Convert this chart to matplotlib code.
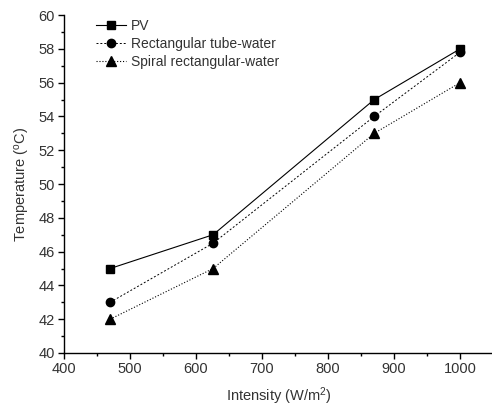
import numpy as np
import matplotlib
matplotlib.use("Agg")
import matplotlib.pyplot as plt

plt.rcParams['font.family'] = ['Liberation Sans', 'DejaVu Sans']
plt.rcParams['mathtext.fontset'] = 'custom'
plt.rcParams['mathtext.rm'] = 'Liberation Sans'
plt.rcParams['mathtext.it'] = 'Liberation Sans'

intensity = [470, 626, 870, 1000]
pv = [45, 47, 55, 58]
rect_tube = [43, 46.5, 54, 57.8]
spiral_rect = [42, 45, 53, 56]

fig = plt.figure(figsize=(4.92, 4.09), dpi=100)
ax = fig.add_axes([0.130, 0.137, 0.872, 0.826])

ax.plot(intensity, pv, '-', color='black', lw=0.8, marker='s', ms=6,
        label='PV')
ax.plot(intensity, rect_tube, '--', color='black', lw=0.7, marker='o', ms=6,
        dashes=(2, 2), label='Rectangular tube-water')
ax.plot(intensity, spiral_rect, ':', color='black', lw=0.8, marker='^', ms=6.5,
        label='Spiral rectangular-water')

ax.set_xlim(400, 1050)
ax.set_ylim(40, 60)
ax.set_xticks(np.arange(400, 1001, 100))
ax.set_xticks(np.arange(450, 1050, 100), minor=True)
ax.set_yticks(np.arange(40, 61, 2))
ax.set_yticks(np.arange(41, 60, 2), minor=True)

for s in ['top', 'right']:
    ax.spines[s].set_visible(False)
for s in ['left', 'bottom']:
    ax.spines[s].set_linewidth(1.0)

txt = '#333333'
ax.tick_params(which='major', direction='out', length=4, width=1,
               labelsize=10.5, labelcolor=txt, pad=2.5)
ax.tick_params(which='minor', direction='out', length=2.5, width=1)

ax.set_xlabel('Intensity (W/m$^2$)', fontsize=10.5, color=txt, labelpad=7)
ax.set_ylabel('Temperature ($^{\\rm o}$C)', fontsize=10.5, color=txt, labelpad=5)

ax.legend(loc='upper left', bbox_to_anchor=(0.045, 1.025), frameon=False,
          fontsize=10, handlelength=2.2, handletextpad=0.35, labelspacing=0.28,
          labelcolor=txt)

fig.savefig('out.png', dpi=100)
